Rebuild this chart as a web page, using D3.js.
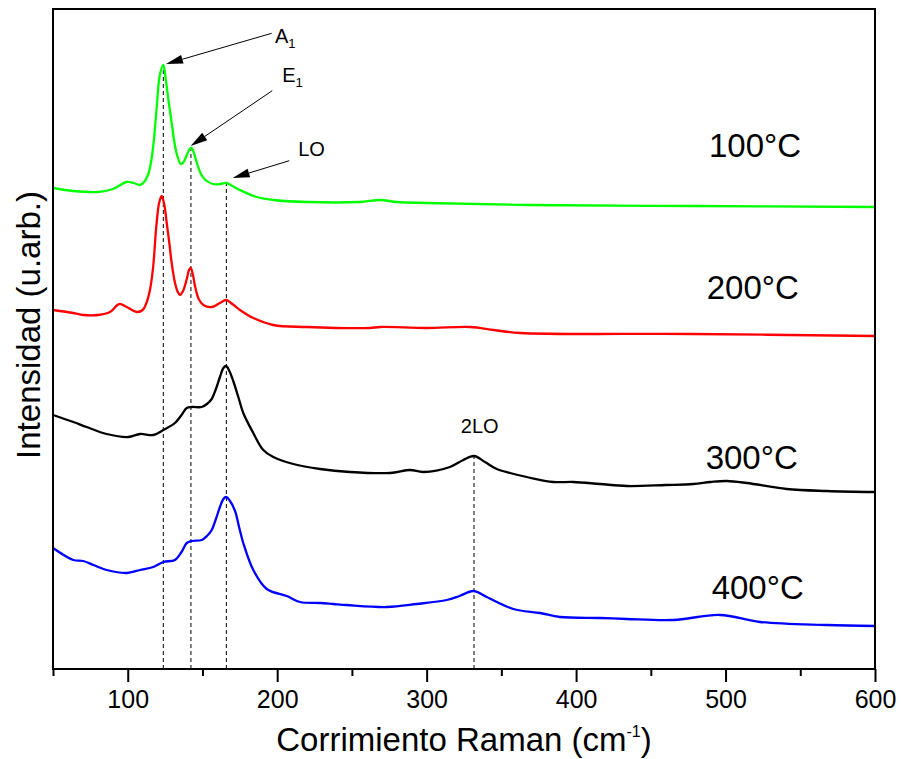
<!DOCTYPE html>
<html><head><meta charset="utf-8">
<script src="https://cdn.jsdelivr.net/npm/d3@7"></script>
<style>body{margin:0;background:#fff}svg{display:block}text{font-family:"Liberation Sans",Arial,sans-serif;fill:#000}</style>
</head><body><svg id="c" width="901" height="759"></svg>
<script>
// ---- data (Raman shift cm^-1, arbitrary intensity) ----
const series100 = [[50,481],[63.6,478],[80,477],[90,480],[99.3,487],[104,486],[108.2,484],[111,487],[113.5,494],[115.5,506],[117.5,529],[119.4,562],[121.5,594],[123.8,604],[125.5,589],[127.5,566],[129.4,546],[131,529],[133,514],[135.5,505],[137,506],[139.5,514],[141.5,520],[142.8,521],[144.5,515],[146.5,505],[149,495],[152,489],[157,485],[162,485],[166,486],[170,483],[175,479],[186.3,472],[197.4,469],[219.7,467],[255,467],[268.8,469],[280,467],[300,466],[367,464],[478,463],[600,462]];
const series200 = [[50,359],[63.6,356],[70.3,354],[80.3,354],[88.1,357],[94.4,365],[99.3,362],[106,357],[110,359],[112.5,366],[115,380],[117,402],[119.2,444],[121,466],[122.7,473],[124.5,464],[126,447],[128,424],[129.4,406],[131.5,387],[133.5,377],[135,374],[137,378],[139.5,390],[141,399],[142.1,401],[143.5,395],[145,383],[147.5,370],[150.6,364],[156.2,362],[161.7,366],[165.8,369],[170,365],[175.1,359],[184,351],[197.4,344],[219.7,342],[262,341],[268.8,342],[300,341],[329,342],[345,339],[362.5,336],[478,335],[600,333]];
const series300 = [[50,254],[63.6,247],[72.5,242],[85.9,235],[100.4,232],[108.2,235],[117.1,234],[123.8,239],[131.6,246],[136,254],[139.5,261],[143,262],[149.5,262],[153,265],[156.2,270],[159,280],[161.7,292],[164,301],[165.8,303],[168,298],[170.6,288],[174,272],[177.3,256],[184,236],[190.7,219],[197.4,212],[210.8,205],[228.7,200],[248.7,197],[275.5,196],[288.9,199],[297.8,197],[315.6,202],[324.5,209],[331.7,213],[339,207],[346.9,200],[355.8,196],[367,192],[384.8,187],[398.2,187],[416,185],[433.9,183],[460,184],[478.5,185],[490,187],[500.8,188],[514.2,186],[541,180],[567.7,178],[600,177]];
const series400 = [[50,121],[63.6,109],[70.3,108],[77,104],[85.9,99],[99.3,96],[108.2,99],[117.1,102],[123.8,107],[131.6,109],[136,117],[139.5,126],[143,128],[149.5,129],[153,133],[156.2,139],[159,150],[161.7,162],[164,170],[165.8,172],[168,169],[171.8,158],[174.5,142],[177.3,126],[184,99],[193,80],[206.4,73],[215.3,67],[228.7,66],[237.6,65],[246.5,64],[273.3,62],[293.4,65],[313.4,69],[322,73],[331.3,78],[340.2,72],[358,60],[375.9,56],[389.2,52],[416,51],[433.9,50],[465,49],[496.3,54],[523.1,47],[567.7,44],[600,43]];
const seriesNames = ["100°C","200°C","300°C","400°C"];
const seriesColors = ["#00ff00","#ff0000","#000000","#0000ff"];
const labelPos = [[488.9,512],[487.4,370],[486.7,200.5],[490.7,69.7]];
const majorTicks = [100,200,300,400,500,600];
const minorTicks = [50,150,250,350,450,550];
// dashed marker lines: x position, top intensity
const peakLines = [[123.8,604],[142.3,521],[166,486],[331.7,213]];
// annotation arrows: label, subscript, text pos, arrow from, arrow tip
const annotations = [
  {t:"A",s:"1",at:[198.5,625.7],from:[196.3,635.7],to:[125.6,605]},
  {t:"E",s:"1",at:[203.4,586.7],from:[196.7,578.3],to:[142.1,523]},
  {t:"LO",s:"",at:[214.1,513],from:[208.1,508.3],to:[170.2,491]}
];
const label2LO = {t:"2LO",at:[335.5,235.7]};

// ---- chart ----
const svg = d3.select("#c");
const x = d3.scaleLinear().domain([50,600]).range([53,875]);
const y = d3.scaleLinear().domain([0,660]).range([669,9]);

// dashed lines
svg.append("g").selectAll("line").data(peakLines).join("line")
  .attr("x1",d=>x(d[0])).attr("x2",d=>x(d[0]))
  .attr("y1",y(0)).attr("y2",d=>y(d[1]))
  .attr("stroke","#000").attr("stroke-width",1).attr("stroke-dasharray","4,3");

// traces
const line = d3.line().x(d=>x(d[0])).y(d=>y(d[1])).curve(d3.curveCatmullRom.alpha(0.5));
[series100,series200,series300,series400].forEach((s,i)=>{
  svg.append("path").datum(s).attr("d",line).attr("fill","none")
    .attr("stroke",seriesColors[i]).attr("stroke-width",2.3).attr("stroke-linejoin","round");
});

// temperature labels
svg.append("g").selectAll("text").data(seriesNames).join("text")
  .attr("x",(d,i)=>x(labelPos[i][0])).attr("y",(d,i)=>y(labelPos[i][1]))
  .attr("font-size",33).text(d=>d);

// axes
const gx = svg.append("g").attr("transform",`translate(0,${y(0)})`)
  .call(d3.axisBottom(x).tickValues(majorTicks).tickSizeInner(13).tickSizeOuter(0).tickPadding(8).tickFormat(d3.format("d")));
gx.select(".domain").remove();
gx.selectAll("line").attr("stroke-width",2);
gx.selectAll("text").attr("font-size",25).attr("font-family","Liberation Sans, Arial, sans-serif");
const gm = svg.append("g").attr("transform",`translate(0,${y(0)})`)
  .call(d3.axisBottom(x).tickValues(minorTicks).tickSizeInner(7).tickSizeOuter(0).tickFormat(""));
gm.select(".domain").remove();
gm.selectAll("line").attr("stroke-width",2);

// frame
svg.append("rect").attr("x",x(50)).attr("y",y(660)).attr("width",x(600)-x(50)).attr("height",y(0)-y(660))
  .attr("fill","none").attr("stroke","#000").attr("stroke-width",2);

// annotations
annotations.forEach(a=>{
  const x1=x(a.from[0]), y1=y(a.from[1]), x2=x(a.to[0]), y2=y(a.to[1]);
  const dx=x2-x1, dy=y2-y1, L=Math.hypot(dx,dy), ux=dx/L, uy=dy/L;
  const hl=17, hw=4.5;
  const bx=x2-ux*hl, by=y2-uy*hl;
  svg.append("line").attr("x1",x1).attr("y1",y1).attr("x2",bx).attr("y2",by).attr("stroke","#000").attr("stroke-width",1);
  svg.append("path").attr("d",`M${x2},${y2}L${bx-uy*hw},${by+ux*hw}L${bx+uy*hw},${by-ux*hw}Z`).attr("fill","#000");
  const t = svg.append("text").attr("x",x(a.at[0])).attr("y",y(a.at[1])).attr("font-size",20).text(a.t);
  if(a.s) t.append("tspan").attr("font-size",13).attr("dy",5).text(a.s);
});
svg.append("text").attr("x",x(label2LO.at[0])).attr("y",y(label2LO.at[1])).attr("text-anchor","middle").attr("font-size",20).text(label2LO.t);

// axis titles
const xt = svg.append("text").attr("x",464).attr("y",751).attr("text-anchor","middle").attr("font-size",33).text("Corrimiento Raman (cm");
xt.append("tspan").attr("font-size",16).attr("dy",-14).text("-1");
xt.append("tspan").attr("dy",14).text(")");
svg.append("text").attr("transform","translate(40,325) rotate(-90)").attr("text-anchor","middle").attr("font-size",33).text("Intensidad (u.arb.)");
</script></body></html>
